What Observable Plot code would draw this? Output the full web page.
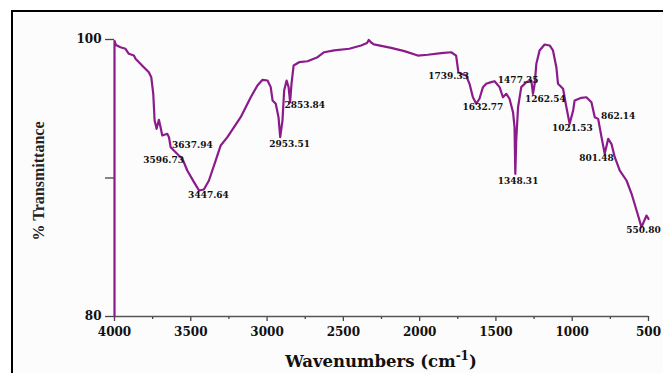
<!DOCTYPE html>
<html><head><meta charset="utf-8">
<script src="https://cdn.jsdelivr.net/npm/d3@7"></script>
<script src="https://cdn.jsdelivr.net/npm/@observablehq/plot@0.6"></script>
<style>
body{margin:0;background:#fff;}
#wrap{position:relative;width:663px;height:373px;overflow:hidden;}
#frame{position:absolute;left:11px;top:10px;width:700px;height:420px;border-left:2.5px solid #000;border-top:2.5px solid #000;background:#fcfcfc;}
#chart{position:absolute;left:0;top:0;}
#xlabel{position:absolute;left:180px;width:402px;top:352px;line-height:20px;text-align:center;font-family:"DejaVu Serif";font-weight:bold;font-size:16.5px;color:#111;}
#xlabel sup{font-size:12px;line-height:0;vertical-align:0.6em;}
</style>
</head><body>
<div id="wrap"><div id="frame"></div><div id="chart"></div>
<div id="xlabel">Wavenumbers (cm<sup>-1</sup>)</div></div>
<script>
const wavenumber = [4000,4000,3990,3961,3928,3906,3873,3862,3840,3808,3775,3759,3746,3737,3724,3709,3698,3687,3654,3643,3632,3611,3578,3555,3523,3479,3446,3414,3381,3337,3304,3260,3173,3107,3063,3030,2997,2976,2964,2943,2925,2914,2899,2888,2872,2859,2849,2840,2826,2790,2735,2669,2626,2560,2461,2384,2345,2333,2320,2300,2187,2100,2012,1947,1859,1793,1761,1746,1728,1695,1673,1651,1629,1608,1585,1564,1531,1509,1476,1454,1432,1411,1388,1378,1373,1367,1355,1334,1301,1268,1257,1246,1235,1214,1181,1148,1126,1104,1093,1060,1038,1017,994,984,940,907,874,852,830,808,787,764,743,721,688,644,611,578,546,513,500];
const transmittance = [80,99.9,99.6,99.44,99.33,98.97,98.84,98.61,98.36,98.0,97.64,97.28,96.08,94.15,93.55,94.2,93.67,93.07,93.19,92.95,92.22,91.99,91.63,91.39,90.54,89.7,89.1,89.17,89.82,91.26,92.35,92.95,94.39,95.83,96.68,97.09,97.04,96.56,95.6,95.36,94.39,92.95,94.15,96.32,97.04,96.56,95.47,96.8,98.12,98.36,98.43,98.72,99.08,99.21,99.33,99.57,99.75,99.97,99.8,99.65,99.4,99.16,98.84,98.9,99.01,99.08,98.84,97.64,97.52,97.4,96.8,95.83,95.36,95.72,96.56,96.8,96.92,96.99,96.56,95.83,96.08,95.72,94.75,93.67,90.3,92.71,95.11,96.56,96.92,97.04,96.08,96.8,98.25,99.21,99.64,99.57,99.21,98.0,96.8,96.44,95.11,93.91,94.87,95.6,95.79,95.83,95.47,94.39,94.27,92.95,91.75,92.83,92.47,91.5,90.54,89.82,88.86,87.65,86.45,87.29,87.05];

const peakLabels = ["3637.94","3596.73","3447.64","2953.51","2853.84","1739.33","1632.77","1477.35","1262.54","1348.31","1021.53","862.14","801.48","550.80"];
const peakLabelX = [3490,3678,3384,2852,2753,1810,1585,1354,1176,1355,999,699,841,533];
const peakLabelY = [92.39,91.31,88.74,92.42,95.29,97.33,95.11,97.09,95.72,89.77,93.62,94.44,91.46,86.26];

const majorX = [4000,3500,3000,2500,2000,1500,1000,500];
const minorX = [3750,3250,2750,2250,1750,1250,750];
const yTicks = [80,90,100];
const yLabeled = [80,100];

const spectrum = wavenumber.map((w, i) => ({w, t: transmittance[i]}));
const labels = peakLabels.map((s, i) => ({s, x: peakLabelX[i], y: peakLabelY[i]}));

const chart = Plot.plot({
  width: 663, height: 373,
  marginLeft: 114, marginRight: 15, marginTop: 39, marginBottom: 57,
  style: {background: "transparent", fontFamily: "DejaVu Serif", fontWeight: "bold", fontSize: "12px", color: "#111"},
  x: {domain: [4000, 500]},
  y: {domain: [80, 100]},
  marks: [
    Plot.axisX({ticks: majorX, tickSize: 5, tickPadding: 6, tickFormat: d => String(d), label: null, stroke: "#444", strokeWidth: 1.3}),
    Plot.axisX({ticks: minorX, tickSize: 3, text: null, label: null, stroke: "#444", strokeWidth: 1.3}),
    Plot.axisY({ticks: yTicks, tickSize: 9, tickPadding: 4, tickFormat: d => yLabeled.includes(d) ? String(d) : "", label: null, stroke: "#444", strokeWidth: 1.3}),
    Plot.ruleY([80], {stroke: "#555", strokeWidth: 1.5}),
    Plot.line(spectrum, {x: "w", y: "t", stroke: "#8b1a8b", strokeWidth: 2.2}),
    Plot.text(labels, {x: "x", y: "y", text: "s", fontSize: 9, fontFamily: "DejaVu Serif", fontWeight: "bold", fill: "#111"}),
    Plot.text(["% Transmittance"], {frameAnchor: "left", textAnchor: "middle", rotate: -90, dx: -76, dy: 3, fontSize: 16, fontFamily: "Liberation Serif", fontWeight: "bold", fill: "#222"})
  ]
});
document.getElementById("chart").appendChild(chart);
</script>
</body></html>
